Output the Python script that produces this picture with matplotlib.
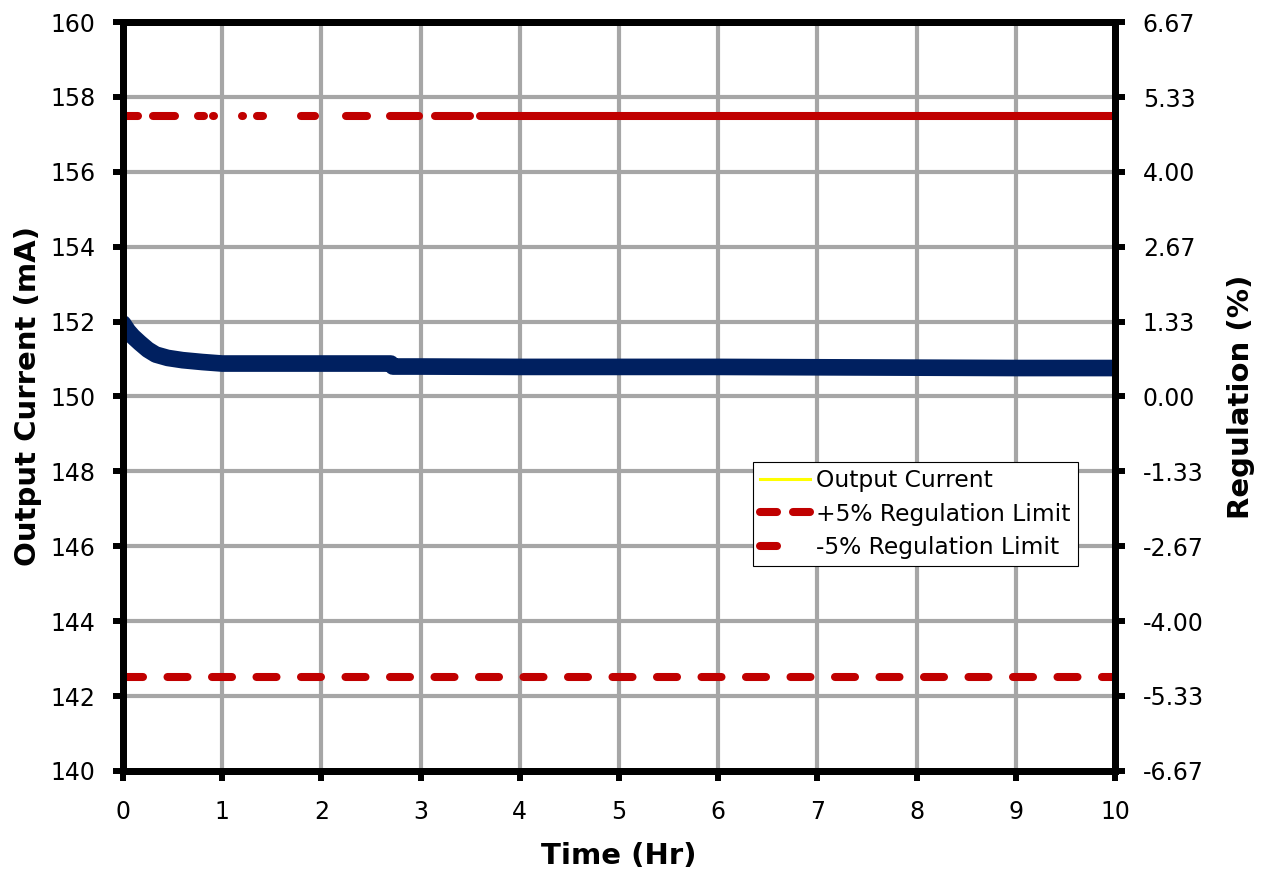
import matplotlib
matplotlib.use('Agg')
import matplotlib.pyplot as plt
from matplotlib.lines import Line2D

# output current vs time
time_hr = [0, 0.05, 0.1, 0.17, 0.25, 0.33, 0.45, 0.6, 0.8, 1.0, 1.5, 2.0,
           2.5, 2.7, 2.72, 3.0, 4, 5, 6, 7, 8, 9, 10]
current_ma = [151.95, 151.75, 151.6, 151.43, 151.25, 151.12, 151.03, 150.97,
              150.92, 150.88, 150.88, 150.88, 150.88, 150.88, 150.8, 150.8,
              150.79, 150.79, 150.79, 150.78, 150.77, 150.76, 150.76]

nominal = 150.0
upper_limit = 157.5
lower_limit = 142.5

reg_ticks = [-6.67, -5.33, -4.00, -2.67, -1.33, 0.00, 1.33, 2.67, 4.00, 5.33, 6.67]


def px(seq):
    # dash lengths given in pixels at 100 dpi -> points
    return [v * 0.72 for v in seq]


# the upper limit line in the original breaks up irregularly, then goes solid
upper_dash = px([15, 15, 22, 23, 6, 9, 1, 28, 1, 14, 6, 38, 14, 31,
                 21, 23, 29, 16, 35, 10, 3000, 10])
lower_dash = px([20, 24.5])

plt.rcParams['font.family'] = 'DejaVu Sans'
plt.rcParams['lines.scale_dashes'] = False

fig = plt.figure(figsize=(12.62, 8.77), dpi=100)
ax = fig.add_axes([0.0975, 0.1209, 0.786, 0.854])

red = '#C00000'
navy = '#002060'
lw_lim = 5.8

ax.grid(True, color='#A6A6A6', linewidth=3, zorder=0)
ax.set_axisbelow(True)

ax.plot([0, 10], [lower_limit, lower_limit], color=red, lw=lw_lim,
        dashes=lower_dash, dash_capstyle='round', zorder=3)
ax.plot([0, 10], [upper_limit, upper_limit], color=red, lw=lw_lim,
        dashes=upper_dash, dash_capstyle='round', zorder=3)
ax.plot(time_hr, current_ma, color=navy, lw=12, solid_capstyle='round',
        solid_joinstyle='round', zorder=4)

ax.set_xlim(0, 10)
ax.set_ylim(140, 160)
ax.set_xticks(range(0, 11))
ax.set_yticks(range(140, 161, 2))

for s in ax.spines.values():
    s.set_linewidth(5)
    s.set_color('black')
ax.tick_params(axis='both', direction='out', length=7, width=4.3, labelsize=17)
ax.tick_params(axis='y', pad=13)
ax.tick_params(axis='x', pad=14)

ax.set_xlabel('Time (Hr)', fontsize=21, fontweight='bold', labelpad=13)
ax.set_ylabel('Output Current (mA)', fontsize=21, fontweight='bold', labelpad=6)

ax2 = ax.twinx()
ax2.set_ylim((140 - nominal) / nominal * 100, (160 - nominal) / nominal * 100)
ax2.set_yticks(reg_ticks)
ax2.set_yticklabels(['%.2f' % v for v in reg_ticks])
for s in ax2.spines.values():
    s.set_linewidth(5)
ax2.tick_params(axis='y', direction='out', length=7, width=4.3,
                labelsize=17, pad=13)
ax2.set_ylabel('Regulation (%)', fontsize=21, fontweight='bold', labelpad=17)

handles = [
    Line2D([], [], color='#FFFF00', lw=2.2),
    Line2D([], [], color=red, lw=lw_lim, dashes=px([17, 16]),
           dash_capstyle='round'),
    Line2D([], [], color=red, lw=lw_lim, dashes=px([17, 200]),
           dash_capstyle='round'),
]
labels = ['Output Current', '+5% Regulation Limit', '-5% Regulation Limit']
leg = ax2.legend(handles, labels, loc='upper left', bbox_to_anchor=(0.635, 0.4125),
                 fontsize=16.8, frameon=True, fancybox=False, framealpha=1,
                 edgecolor='black', handlelength=2.15, handletextpad=0.26,
                 borderpad=0.3, labelspacing=0.45, borderaxespad=0)
leg.get_frame().set_linewidth(0.8)

fig.savefig('out.png', dpi=100, facecolor='white')
